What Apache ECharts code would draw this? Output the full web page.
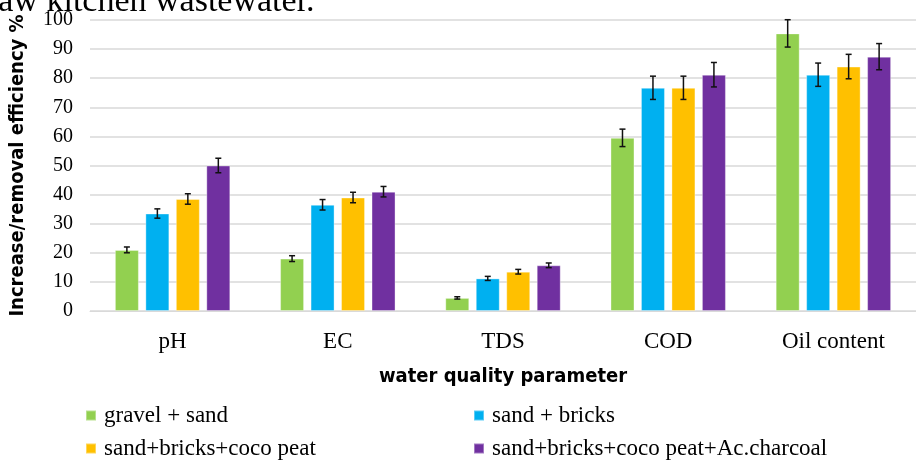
<!DOCTYPE html>
<html><head><meta charset="utf-8">
<script src="https://cdn.jsdelivr.net/npm/echarts@6/dist/echarts.min.js"></script>
<style>html,body{margin:0;padding:0;background:#fff}#c{width:916px;height:461px}</style>
</head><body><div id="c"></div>
<script>
const categories = ['pH', 'EC', 'TDS', 'COD', 'Oil content'];
const seriesNames = ['gravel + sand', 'sand + bricks', 'sand+bricks+coco peat', 'sand+bricks+coco peat+Ac.charcoal'];
const gravelSand = [21, 18, 4.5, 59.5, 95.4];
const sandBricks = [33.5, 36.5, 11.2, 76.7, 81.2];
const sandBricksCoco = [38.5, 39, 13.5, 76.7, 84];
const sandBricksCocoCharcoal = [50, 41, 15.7, 81.2, 87.4];
const errGravelSand = [1, 1, 0.4, 3, 4.7];
const errSandBricks = [1.6, 1.8, 0.7, 4, 4];
const errSandBricksCoco = [1.8, 1.8, 0.8, 4, 4.2];
const errSandBricksCocoCharcoal = [2.5, 1.8, 0.8, 4.2, 4.5];
const yTicks = [0, 10, 20, 30, 40, 50, 60, 70, 80, 90, 100];

const values = [gravelSand, sandBricks, sandBricksCoco, sandBricksCocoCharcoal];
const errors = [errGravelSand, errSandBricks, errSandBricksCoco, errSandBricksCocoCharcoal];
const colors = ['#92d050', '#00b0f0', '#ffc000', '#7030a0'];
const BW = 24, GAP = 0.27;
const step = BW * (1 + GAP);

const chart = echarts.init(document.getElementById('c'));
const series = [];
values.forEach((v, i) => {
  series.push({
    type: 'bar', name: seriesNames[i], data: v, barWidth: BW, barGap: (GAP*100)+'%',
    itemStyle: {color: colors[i], borderColor: 'rgba(255,255,255,0.35)', borderWidth: 1}
  });
});
values.forEach((v, i) => {
  const off = (i - 1.5) * step;
  series.push({
    type: 'custom', name: 'err' + i, z: 10,
    data: v.map((val, k) => [k, val - errors[i][k], val + errors[i][k]]),
    renderItem: function (params, api) {
      const lo = api.coord([api.value(0), api.value(1)]);
      const hi = api.coord([api.value(0), api.value(2)]);
      const x = lo[0] + off;
      const cap = 3;
      const st = {stroke: '#111', lineWidth: 1.5};
      return {type: 'group', children: [
        {type: 'line', shape: {x1: x, y1: lo[1], x2: x, y2: hi[1]}, style: st},
        {type: 'line', shape: {x1: x - cap, y1: lo[1], x2: x + cap, y2: lo[1]}, style: st},
        {type: 'line', shape: {x1: x - cap, y1: hi[1], x2: x + cap, y2: hi[1]}, style: st}
      ]};
    }
  });
});

const legendPos = [[85, 404], [473, 404], [85, 437], [473, 437]];
const legends = seriesNames.map((n, i) => ({
  data: [n], left: legendPos[i][0], top: legendPos[i][1], itemWidth: 10, itemHeight: 10, itemGap: 0,
  padding: 0, icon: 'rect', selectedMode: false,
  textStyle: {fontFamily: 'Liberation Serif', fontSize: 23, color: '#000', padding: [0, 0, 0, 3]}
}));

chart.setOption({
  animation: false,
  grid: {left: 86, right: 0, top: 20, bottom: 150},
  graphic: [{type: 'text', x: -13, y: 2, style: {text: 'raw kitchen wastewater.', fill: '#000',
    font: '34px "Liberation Serif"', textVerticalAlign: 'middle'}}],
  legend: legends,
  xAxis: {
    type: 'category', data: categories,
    axisTick: {show: false},
    axisLine: {lineStyle: {color: '#d9d9d9', width: 1}},
    axisLabel: {fontFamily: 'Liberation Serif', fontSize: 23, color: '#000', margin: 19},
    name: 'water quality parameter', nameLocation: 'middle', nameGap: 56,
    nameTextStyle: {fontFamily: 'DejaVu Sans Condensed', fontWeight: 'bold', fontSize: 20, color: '#000'}
  },
  yAxis: {
    type: 'value', min: 0, max: 100, interval: 10,
    axisLabel: {fontFamily: 'Liberation Serif', fontSize: 20, color: '#000', margin: 17,
      formatter: v => yTicks.includes(v) ? String(v) : ''},
    splitLine: {lineStyle: {color: '#d9d9d9', width: 1.5}},
    axisLine: {show: false}, axisTick: {show: false},
    name: 'Increase/removal efficiency %', nameLocation: 'middle', nameGap: 62, nameRotate: 90,
    nameTextStyle: {fontFamily: 'DejaVu Sans Condensed', fontWeight: 'bold', fontSize: 20, color: '#000'}
  },
  series: series
});
</script></body></html>
